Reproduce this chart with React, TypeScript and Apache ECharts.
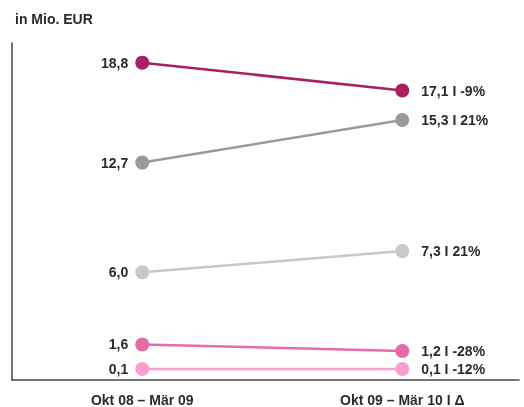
import React, { useEffect, useRef } from "react";
import * as echarts from "echarts";

const categories = ["Okt 08 – Mär 09", "Okt 09 – Mär 10 I Δ"];
const unitLabel = "in Mio. EUR";
const seriesNames = ["Reihe 1", "Reihe 2", "Reihe 3", "Reihe 4", "Reihe 5"];
const seriesA = [18.8, 17.1];
const seriesB = [12.7, 15.3];
const seriesC = [6.0, 7.3];
const seriesD = [1.6, 1.2];
const seriesE = [0.1, 0.1];
const changes = ["-9%", "21%", "21%", "-28%", "-12%"];
const colors = ["#a8205f", "#9a9a9a", "#c8c8c8", "#e56aa8", "#f99ecd"];

const fmt = (v: number) => v.toFixed(1).replace(".", ",");

export default function App() {
  const ref = useRef<HTMLDivElement>(null);
  useEffect(() => {
    if (!ref.current) return;
    const chart = echarts.init(ref.current, undefined, { renderer: "svg" });
    const all = [seriesA, seriesB, seriesC, seriesD, seriesE];
    const textStyle = {
      fontFamily: "'Liberation Sans', Arial, sans-serif",
      fontWeight: "bold" as const,
      fontSize: 14,
      color: "#2b2b2b",
    };
    chart.setOption({
      animation: false,
      title: {
        text: unitLabel,
        left: 15,
        top: 12,
        padding: 0,
        textStyle: { ...textStyle, fontSize: 14 },
      },
      grid: { left: 12, right: 5, top: 43, bottom: 26, containLabel: false },
      xAxis: {
        type: "value",
        min: -0.501,
        max: 1.449,
        splitLine: { show: false },
        axisLine: { show: true, onZero: false, lineStyle: { color: "#444444", width: 1.5 } },
        axisTick: { show: false },
        axisLabel: {
          customValues: [0, 1],
          margin: 13,
          formatter: (v: number) => categories[Math.round(v)] ?? "",
          ...textStyle,
        },
      },
      yAxis: {
        type: "value",
        min: -0.57,
        max: 20,
        splitLine: { show: false },
        axisLine: { show: true, onZero: false, lineStyle: { color: "#444444", width: 1.5 } },
        axisTick: { show: false },
        axisLabel: { show: false },
      },
      series: all.map((vals, i) => ({
        name: seriesNames[i],
        type: "line",
        data: vals.map((v, j) => ({
          value: [j, v],
          label:
            j === 0
              ? { position: "left", distance: 7 }
              : { position: "right", distance: 12 },
        })),
        symbol: "circle",
        symbolSize: 14,
        color: colors[i],
        lineStyle: { color: colors[i], width: 2.5 },
        itemStyle: { color: colors[i] },
        label: {
          show: true,
          ...textStyle,
          formatter: (p: any) =>
            p.dataIndex === 0
              ? fmt(p.value[1])
              : `${fmt(p.value[1])} I ${changes[i]}`,
        },
      })),
    });
    return () => chart.dispose();
  }, []);
  return (
    <div
      ref={ref}
      style={{ position: "fixed", left: 0, top: 0, width: 524, height: 407 }}
    />
  );
}
